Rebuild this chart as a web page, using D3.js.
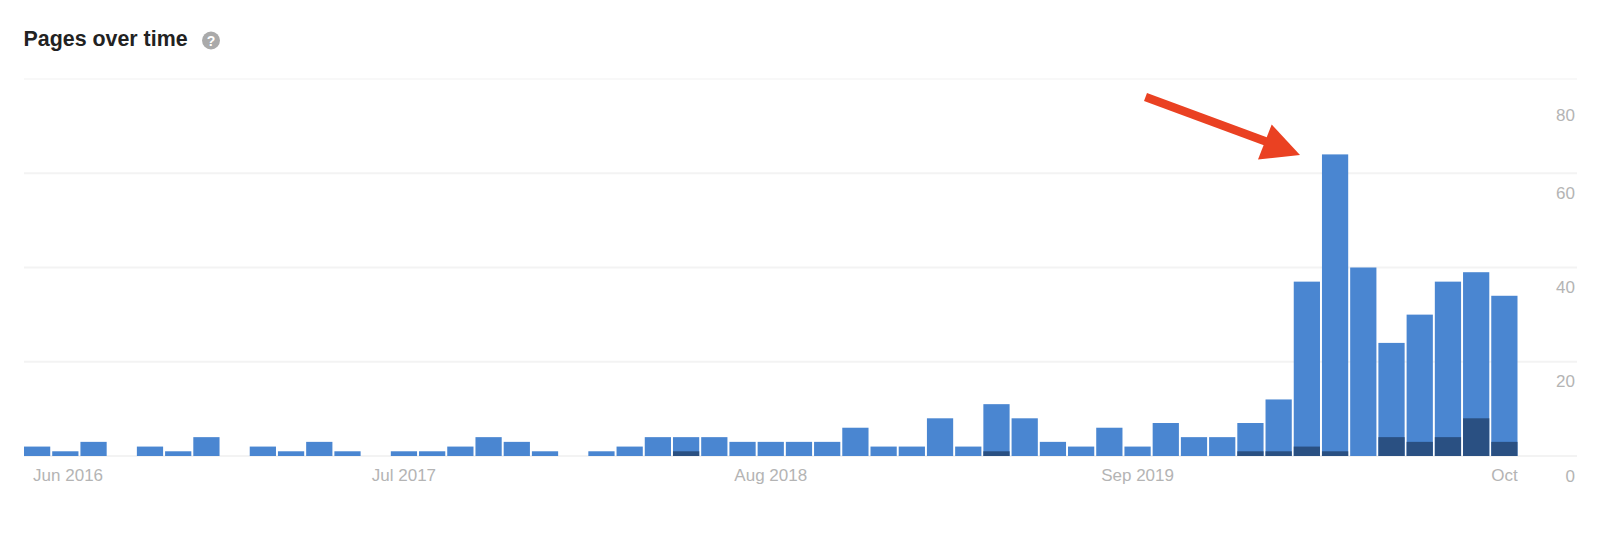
<!DOCTYPE html>
<html>
<head>
<meta charset="utf-8">
<script src="https://cdn.jsdelivr.net/npm/d3@7"></script>
<style>
    body { margin: 0; background: #fff; }
    svg { display: block; font-family: "Liberation Sans", Arial, sans-serif; }
    .axis path, .axis line { display: none; }
    .axis text { fill: #b4b4b4; font-size: 17px; font-family: "Liberation Sans", Arial, sans-serif; }
</style>
</head>
<body>
<div id="chart"></div>
<script>
// Months, one bar each
const months = [
    "Jun 2016","Jul 2016","Aug 2016","Sep 2016","Oct 2016","Nov 2016","Dec 2016","Jan 2017","Feb 2017","Mar 2017","Apr 2017","May 2017","Jun 2017",
    "Jul 2017","Aug 2017","Sep 2017","Oct 2017","Nov 2017","Dec 2017","Jan 2018","Feb 2018","Mar 2018","Apr 2018","May 2018","Jun 2018","Jul 2018",
    "Aug 2018","Sep 2018","Oct 2018","Nov 2018","Dec 2018","Jan 2019","Feb 2019","Mar 2019","Apr 2019","May 2019","Jun 2019","Jul 2019","Aug 2019",
    "Sep 2019","Oct 2019","Nov 2019","Dec 2019","Jan 2020","Feb 2020","Mar 2020","Apr 2020","May 2020","Jun 2020","Jul 2020","Aug 2020","Sep 2020","Oct 2020"
];
const pages = [
    2,1,3,0,2,1,4,0,2,1,3,1,0,
    1,1,2,4,3,1,0,1,2,4,4,4,3,
    3,3,3,6,2,2,8,2,11,8,3,2,6,
    2,7,4,4,7,12,37,64,40,24,30,37,39,34
];
const darkPages = [
    0,0,0,0,0,0,0,0,0,0,0,0,0,
    0,0,0,0,0,0,0,0,0,0,1,0,0,
    0,0,0,0,0,0,0,0,1,0,0,0,0,
    0,0,0,0,1,1,2,1,0,4,3,4,8,3
];
const xTicks = ["Jun 2016","Jul 2017","Aug 2018","Sep 2019","Oct 2020"];
const yTicks = [0,20,40,60,80];

let svg = d3.select("#chart").append("svg")
    .attr("width", 1600)
    .attr("height", 544);

let xScale = d3.scaleBand()
    .domain(months)
    .range([24, 1517.5])
    .paddingInner(0.07);

let yScale = d3.scaleLinear()
    .domain([0, 80])
    .range([456, 79]);

// Title
svg.append("text")
    .attr("x", 23.5)
    .attr("y", 46)
    .attr("font-size", 21.4)
    .attr("font-weight", "bold")
    .attr("fill", "#222")
    .text("Pages over time");

svg.append("circle")
    .attr("cx", 211)
    .attr("cy", 40.5)
    .attr("r", 9)
    .attr("fill", "#aaa");

svg.append("text")
    .attr("x", 211)
    .attr("y", 45.5)
    .attr("text-anchor", "middle")
    .attr("font-size", 14)
    .attr("font-weight", "bold")
    .attr("fill", "#fff")
    .text("?");

// Grid
svg.selectAll(".grid")
    .data(yTicks)
    .enter().append("line")
    .attr("class", "grid")
    .attr("x1", 24)
    .attr("x2", 1577)
    .attr("y1", d => yScale(d))
    .attr("y2", d => yScale(d))
    .attr("stroke", d => d === 80 ? "#f8f8f8" : "#f3f3f3")
    .attr("stroke-width", 2);

// Bars
svg.selectAll(".bar")
    .data(months)
    .enter().append("rect")
    .attr("class", "bar")
    .attr("x", d => xScale(d))
    .attr("width", xScale.bandwidth())
    .attr("y", (d, i) => yScale(pages[i]))
    .attr("height", (d, i) => yScale(0) - yScale(pages[i]))
    .attr("fill", "#4a86d1");

svg.selectAll(".dark-bar")
    .data(months)
    .enter().append("rect")
    .attr("class", "dark-bar")
    .attr("x", d => xScale(d))
    .attr("width", xScale.bandwidth())
    .attr("y", (d, i) => yScale(darkPages[i]))
    .attr("height", (d, i) => yScale(0) - yScale(darkPages[i]))
    .attr("fill", "#2a5082");

// Axes
let xAxis = svg.append("g")
    .attr("class", "axis")
    .attr("transform", "translate(0,456)")
    .call(d3.axisBottom(xScale)
        .tickValues(xTicks)
        .tickFormat(d => d === "Oct 2020" ? "Oct" : d));

xAxis.selectAll("text")
    .attr("y", 25)
    .attr("dy", 0)
    .attr("text-anchor", (d, i) => i === 0 ? "start" : "middle")
    .attr("x", (d, i) => i === 0 ? -4 : 0);

let yAxis = svg.append("g")
    .attr("class", "axis")
    .attr("transform", "translate(1575,0)")
    .call(d3.axisRight(yScale).tickValues(yTicks));

// The top label sits lower than the others
yAxis.selectAll("text")
    .attr("text-anchor", "end")
    .attr("x", 0)
    .attr("dy", d => d === 80 ? 41.5 : d === 0 ? 25.5 : 25);

// Red arrow
svg.append("line")
    .attr("x1", 1145.5)
    .attr("y1", 97)
    .attr("x2", 1270)
    .attr("y2", 143)
    .attr("stroke", "#ea4122")
    .attr("stroke-width", 8.5);

svg.append("polygon")
    .attr("points", "1300,155 1271.7,124.5 1258,159.5")
    .attr("fill", "#ea4122");
</script>
</body>
</html>
